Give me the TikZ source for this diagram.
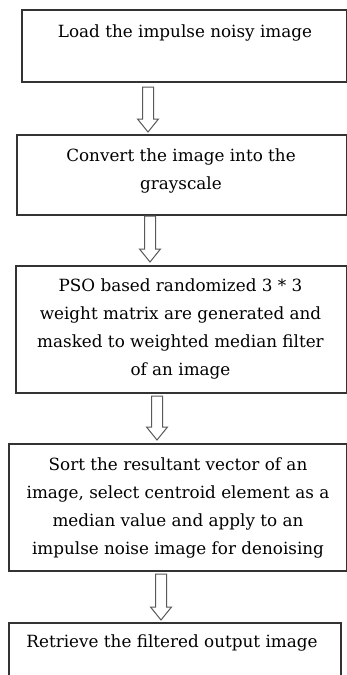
\documentclass[tikz,border=0pt]{standalone}
\usepackage{fontspec}
\setmainfont{DejaVu Serif}
\usetikzlibrary{calc}
\newcommand\hollowarrow[2]{%
  \draw[barrow] ($(#1)+(-5.5,0)$) -- ($(#1)+(5.5,0)$) -- ($(#2)+(5.5,-13)$)
    -- ($(#2)+(10.5,-13)$) -- (#2) -- ($(#2)+(-10.5,-13)$) -- ($(#2)+(-5.5,-13)$) -- cycle;}
\begin{document}
\begin{tikzpicture}[x=1pt,y=-1pt,
  box/.style={draw=black!80, line width=1.7pt, inner sep=0pt, anchor=north west},
  txt/.style={align=center, font=\fontsize{16.8}{28}\selectfont, text=black, inner sep=0pt},
  barrow/.style={draw=black!65, line width=1pt, fill=white}]
\useasboundingbox (0,0) rectangle (347,675);
\fill[white] (0,0) rectangle (347,675);
\clip (0,0) rectangle (347,675);
% boxes
\node[box, minimum width=325, minimum height=72] (b1) at (21,9) {};
\node[box, minimum width=330, minimum height=80] (b2) at (16,134) {};
\node[box, minimum width=331, minimum height=127] (b3) at (15,265) {};
\node[box, minimum width=338, minimum height=127] (b4) at (8,443) {};
\node[box, minimum width=332, minimum height=90] (b5) at (8,622) {};
% texts
\node[txt] (t1) at (185,33) {Load the impulse noisy image};
\node[txt] (t2) at (181,171) {Convert the image into the\\grayscale};
\node[txt] (t3) at (180.5,329) {PSO based randomized 3 * 3\\weight matrix are generated and\\masked to weighted median filter\\of an image};
\node[txt] (t4) at (178,507.5) {Sort the resultant vector of an\\image, select centroid element as a\\median value and apply to an\\impulse noise image for denoising};
\node[txt] (t5) at (172,643) {Retrieve the filtered output image};
% arrows
\coordinate (a1t) at (148,87);  \coordinate (a1b) at (148,132);
\coordinate (a2t) at (150,216); \coordinate (a2b) at (150,262);
\coordinate (a3t) at (157,396); \coordinate (a3b) at (157,440);
\coordinate (a4t) at (161,574); \coordinate (a4b) at (161,620);
\hollowarrow{a1t}{a1b}
\hollowarrow{a2t}{a2b}
\hollowarrow{a3t}{a3b}
\hollowarrow{a4t}{a4b}
\end{tikzpicture}
\end{document}
